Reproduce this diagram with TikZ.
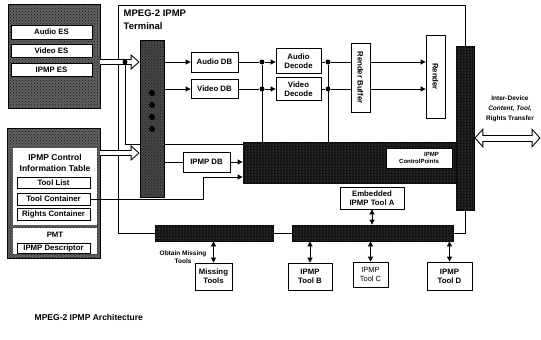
\documentclass[tikz,border=0pt]{standalone}
\usepackage{fontspec}
\setmainfont{Liberation Sans}
\usepackage{graphicx}
\usetikzlibrary{arrows.meta, patterns}

\begin{document}
\begin{tikzpicture}[x=1pt, y=-1pt, line width=0.8pt,
    font=\bfseries\fontsize{7.8}{8.8}\selectfont,
    >={Triangle[length=5pt, width=5pt]},
    sz/.style 2 args={minimum width=#1pt, minimum height=#2pt},
    box/.style={draw, fill=white, align=center, inner sep=0pt},
    plain/.style={fill=white, inner sep=0pt},
    grain/.style={draw, fill=black!62, inner sep=0pt, postaction={pattern=crosshatch dots, pattern color=black!90}},
    bar/.style={draw, fill=black!92, inner sep=0pt, postaction={pattern=dots, pattern color=black!50}},
    dot/.style={circle, fill, inner sep=0pt, minimum size=5pt},
    hollow/.style={line width=6pt, -{Triangle[length=9pt, width=16pt, line width=0pt]},
      postaction={draw=white, line width=4pt, shorten >=1.5pt, -{Triangle[length=6.5pt, width=11.5pt, line width=0pt]}}},
    hollowtwo/.style={line width=7pt, {Triangle[length=9pt, width=20pt, line width=0pt]}-{Triangle[length=9pt, width=20pt, line width=0pt]},
      postaction={draw=white, line width=5pt, shorten >=1.4pt, shorten <=1.4pt, {Triangle[length=6.6pt, width=14.8pt, line width=0pt]}-{Triangle[length=6.6pt, width=14.8pt, line width=0pt]}}},
  ]
    \useasboundingbox (0,0) rectangle (541,340);

    % elementary streams
    \node[grain, sz={92}{104}] (strm) at (54,56) {};
    \node[box, sz={81}{14}] (aes) at (51.5,32) {Audio ES};
    \node[box, sz={81}{13}] (ves) at (51.5,50.5) {Video ES};
    \node[box, sz={81}{13}] (ies) at (51.5,69.5) {IPMP ES};

    % program map table
    \node[grain, sz={93}{130}] (pmt) at (53.5,193) {};
    \node[plain, sz={84}{77}] (ict) at (55,186.5) {};
    \node[align=center, font=\bfseries\fontsize{8.5}{10.5}\selectfont] (ictt) at (55,163) {IPMP Control\\Information Table};
    \node[box, sz={73}{11}] (tlst) at (53.5,182.5) {Tool List};
    \node[box, sz={73}{12}] (tcon) at (53.5,199) {Tool Container};
    \node[box, sz={73}{12}] (rcon) at (53.5,214) {Rights Container};
    \node[plain, sz={84}{26}] (pmtw) at (55,241) {};
    \node (pmtt) at (55,235) {PMT};
    \node[box, sz={73}{10}] (ides) at (53.5,248) {IPMP Descriptor};

    % terminal
    \node[grain, fill=black!72, sz={24}{157}] (demux) at (152,118.5) {};
    \foreach \y in {93,105,117,129}
      \fill (152,\y) circle (3pt);
    \node[anchor=north west, align=left, font=\bfseries\fontsize{9.5}{13}\selectfont] (ttl) at (120,6) {MPEG-2 IPMP\\Terminal};

    \node[box, sz={47}{20}] (adb) at (214.5,62) {Audio DB};
    \node[box, sz={47}{19}] (vdb) at (214.5,89) {Video DB};
    \node[box, sz={45}{25}] (adec) at (298.5,61) {Audio\\Decode};
    \node[box, sz={45}{23}] (vdec) at (298.5,89) {Video\\Decode};
    \node[box, sz={19}{69}] (rbuf) at (360.5,77.5) {\rotatebox{-90}{Render Buffer}};
    \node[box, sz={19}{83}] (rend) at (435.5,76.5) {\rotatebox{-90}{Render}};
    \node[bar, sz={18}{164}] (rbar) at (465,128) {};

    \node[bar, sz={213}{41}] (cp) at (349.5,162.5) {};
    \node[box, sz={66}{20}, align=right, font=\bfseries\fontsize{6}{7.5}\selectfont] (cpl) at (419,158) {IPMP\\ControlPoints};
    \node[box, sz={47}{20}] (ipdb) at (206.5,162) {IPMP DB};

    \node[box, sz={64}{22}] (emb) at (372,198) {Embedded\\IPMP Tool A};
    \node[bar, sz={118}{16}] (obt) at (214,233) {};
    \node[bar, sz={161}{16}] (bus) at (372.5,233) {};
    \node[align=center, font=\bfseries\fontsize{6.5}{8.5}\selectfont] (obl) at (183,257) {Obtain Missing\\Tools};

    \node[box, sz={37}{27}] (mt) at (213.5,276.5) {Missing\\Tools};
    \node[box, sz={44}{27}] (tb) at (310,276.5) {IPMP\\Tool B};
    \node[box, sz={35}{25}, font=\fontsize{7.5}{8.8}\selectfont] (tcc) at (370.5,274.5) {IPMP\\Tool C};
    \node[box, sz={45}{28}] (td) at (449.5,276) {IPMP\\Tool D};

    \node[align=center, font=\bfseries\fontsize{6.5}{10}\selectfont] (xfer) at (510,109) {Inter-Device\\\textit{Content, Tool,}\\Rights Transfer};
    \coordinate (far) at (540.5,138);

    \node[anchor=west, font=\bfseries\fontsize{8.5}{10}\selectfont] (cap) at (31,317) {MPEG-2 IPMP Architecture};

    % frame of the terminal
    \draw (obt.west) -| (118,5) -| (rbar.north);
    \draw (obt) -- (bus);
    \draw (bus.east) -| (rbar.south);

    % into the demux
    \draw[hollow] (strm.east |- 0,62) -- (demux.west |- 0,62);
    \draw[hollow] (pmt.east |- 0,153) -- (demux.west |- 0,153);
    \node[dot] (sp) at (125,62) {};
    \draw (sp) |- (demux.west |- 0,144);
    \draw (demux.east |- 0,144) -- (cp.west |- 0,144);
    \draw[->] (tcon.east) -- ++(113,0) |- (cp.west |- 0,177);

    % media path
    \draw[->] (demux.east |- adb) -- (adb);
    \draw[->] (demux.east |- vdb) -- (vdb);
    \node[dot] (ja) at (262,62) {};
    \node[dot] (jv) at (262,89) {};
    \draw (adb) -- (ja);
    \draw (vdb) -- (jv);
    \draw[->] (ja) -- (adec.west |- ja);
    \draw[->] (jv) -- (vdec);
    \draw (ja) -- (ja |- cp.north);
    \node[dot] (ka) at (328,62) {};
    \node[dot] (kv) at (328,89) {};
    \draw (adec.east |- ka) -- (ka) -- (rbuf.west |- ka);
    \draw (vdec) -- (kv) -- (rbuf.west |- kv);
    \draw (ka) -- (ka |- cp.north);
    \draw[->] (rbuf.east |- ka) -- (rend.west |- ka);
    \draw[->] (rbuf.east |- kv) -- (rend.west |- kv);

    % ipmp
    \draw (demux.east |- ipdb) -- (ipdb);
    \draw[->] (ipdb) -- (cp.west |- ipdb);
    \draw[<->] (emb) -- (emb |- bus.north);
    \draw[<->] (obt.south -| mt) -- (mt);
    \draw[<->] (bus.south -| tb) -- (tb);
    \draw[<->] (bus.south -| tcc) -- (tcc);
    \draw[<->] (bus.south -| td) -- (td);

    % out of the terminal
    \draw[hollowtwo] (rbar.east |- far) -- (far);
\end{tikzpicture}
\end{document}
